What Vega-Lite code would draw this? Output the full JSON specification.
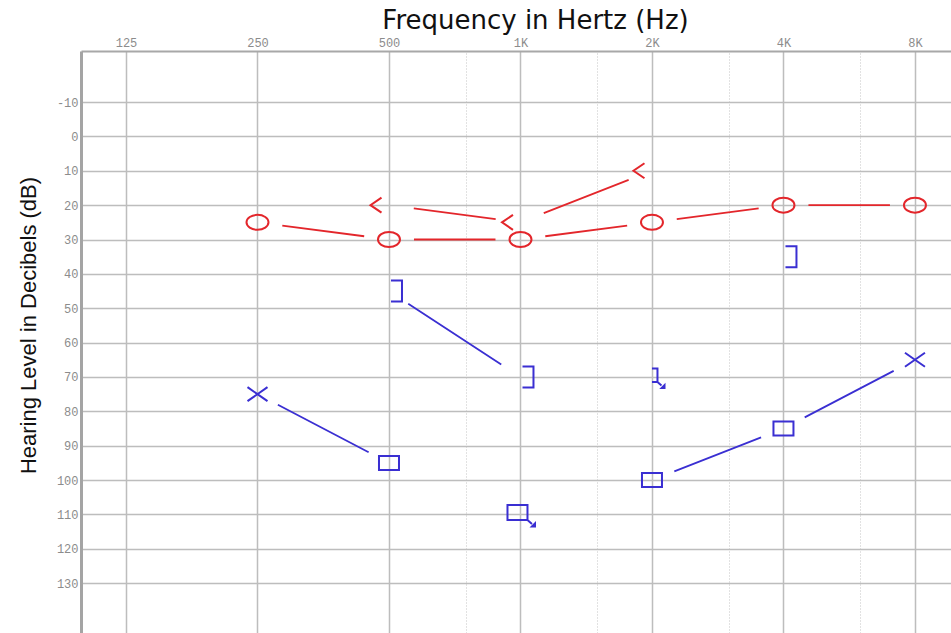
{
  "$schema": "https://vega.github.io/schema/vega-lite/v6.json",
  "width": 870,
  "height": 582,
  "padding": {"left": 81, "top": 51, "right": 0, "bottom": 0},
  "autosize": {"type": "none"},
  "background": "#ffffff",
  "config": {"view": {"stroke": null}},
  "data": {
    "values": [
      {"freq": 250, "db": 25, "ear": "R", "sym": "O", "grp": "RAC"},
      {"freq": 500, "db": 30, "ear": "R", "sym": "O", "grp": "RAC"},
      {"freq": 1000, "db": 30, "ear": "R", "sym": "O", "grp": "RAC"},
      {"freq": 2000, "db": 25, "ear": "R", "sym": "O", "grp": "RAC"},
      {"freq": 4000, "db": 20, "ear": "R", "sym": "O", "grp": "RAC"},
      {"freq": 8000, "db": 20, "ear": "R", "sym": "O", "grp": "RAC"},
      {"freq": 500, "db": 20, "ear": "R", "sym": "<", "grp": "RBC"},
      {"freq": 1000, "db": 25, "ear": "R", "sym": "<", "grp": "RBC"},
      {"freq": 2000, "db": 10, "ear": "R", "sym": "<", "grp": "RBC"},
      {"freq": 500, "db": 45, "ear": "L", "sym": "B", "grp": "LBC"},
      {"freq": 1000, "db": 70, "ear": "L", "sym": "B", "grp": "LBC"},
      {"freq": 2000, "db": 70, "ear": "L", "sym": "BNR"},
      {"freq": 4000, "db": 35, "ear": "L", "sym": "B"},
      {"freq": 250, "db": 75, "ear": "L", "sym": "X", "grp": "LAC1"},
      {"freq": 500, "db": 95, "ear": "L", "sym": "S", "grp": "LAC1"},
      {"freq": 1000, "db": 110, "ear": "L", "sym": "SNR"},
      {"freq": 2000, "db": 100, "ear": "L", "sym": "S", "grp": "LAC2"},
      {"freq": 4000, "db": 85, "ear": "L", "sym": "S", "grp": "LAC2"},
      {"freq": 8000, "db": 65, "ear": "L", "sym": "X", "grp": "LAC2"}
    ]
  },
  "encoding": {
    "x": {
      "field": "freq",
      "type": "quantitative",
      "scale": {"type": "log", "base": 2, "domain": [98.6, 9674], "nice": false, "zero": false},
      "axis": null
    },
    "y": {
      "field": "db",
      "type": "quantitative",
      "scale": {"domain": [-24.85, 144.5], "reverse": true, "nice": false, "zero": false},
      "axis": {
        "orient": "left",
        "values": [-10, 0, 10, 20, 30, 40, 50, 60, 70, 80, 90, 100, 110, 120, 130],
        "labelExpr": "'' + datum.value",
        "labelFont": "Liberation Mono",
        "labelFontSize": 12,
        "labelColor": "#8c8c8c",
        "labelPadding": 3,
        "ticks": false,
        "tickSize": 0,
        "domain": true,
        "domainColor": "#a4a4a4",
        "domainWidth": 3,
        "grid": true,
        "gridColor": "#bdbdbd",
        "gridWidth": 1.5,
        "title": "Hearing Level in Decibels (dB)",
        "titleFont": "Liberation Sans",
        "titleFontSize": 22,
        "titleFontWeight": "normal",
        "titleColor": "#111111",
        "titleAngle": 270,
        "titleX": -46,
        "titleY": 274,
        "titleAlign": "center",
        "titleBaseline": "alphabetic"
      }
    }
  },
  "layer": [
    {
      "transform": [{"filter": "isValid(datum.grp)"}],
      "mark": {"type": "line", "strokeWidth": 1.8},
      "encoding": {
        "x": {
          "field": "freq",
          "type": "quantitative",
          "scale": {"type": "log", "base": 2, "domain": [98.6, 9674], "nice": false, "zero": false},
          "axis": {
            "orient": "top",
            "values": [125, 250, 500, 1000, 2000, 4000, 8000],
            "labelExpr": "datum.value >= 1000 ? (datum.value / 1000) + 'K' : '' + datum.value",
            "labelFont": "Liberation Mono",
            "labelFontSize": 12,
            "labelColor": "#8c8c8c",
            "labelPadding": 2,
            "labelFlush": false,
            "labelOverlap": false,
            "ticks": false,
            "tickSize": 0,
            "domain": true,
            "domainColor": "#a8a8a8",
            "domainWidth": 2,
            "grid": true,
            "gridColor": "#bdbdbd",
            "gridWidth": 1.5,
            "title": "Frequency in Hertz (Hz)",
            "titleFont": "DejaVu Sans",
            "titleFontSize": 26,
            "titleFontWeight": "normal",
            "titleColor": "#111111",
            "titleX": 454,
            "titleY": -23,
            "titleAlign": "center",
            "titleBaseline": "alphabetic"
          }
        },
        "detail": {"field": "grp"},
        "strokeDash": {
          "field": "grp",
          "type": "nominal",
          "scale": {
            "domain": ["RAC", "RBC", "LBC", "LAC1", "LAC2"],
            "range": [
              [0, 25, 82.6, 50, 81.5, 50, 82.6, 50, 82.6, 50, 81.5, 25],
              [0, 25, 82.6, 50, 91.2, 25],
              [0, 23, 111.1, 23],
              [0, 23, 102.4, 23],
              [0, 24, 93.2, 48, 100.4, 24]
            ]
          },
          "legend": null
        },
        "color": {
          "field": "ear",
          "type": "nominal",
          "scale": {"domain": ["R", "L"], "range": ["#e3262b", "#3a2fd2"]},
          "legend": null
        }
      }
    },
    {
      "mark": {"type": "point", "filled": false, "size": 400, "strokeWidth": 2, "opacity": 1},
      "encoding": {
        "x": {
          "field": "freq",
          "type": "quantitative",
          "scale": {"type": "log", "base": 2, "domain": [98.6, 9674], "nice": false, "zero": false},
          "axis": {
            "orient": "bottom",
            "values": [750, 1500, 3000, 6000],
            "labels": false,
            "ticks": false,
            "domain": false,
            "grid": true,
            "gridColor": "#c4c4c4",
            "gridWidth": 1,
            "gridDash": [1, 2],
            "title": null
          }
        },
        "shape": {
          "field": "sym",
          "type": "nominal",
          "scale": {
            "domain": ["O", "<", "X", "S", "SNR", "B", "BNR"],
            "range": [
              "M -1.1 0 A 1.1 0.75 0 1 1 1.1 0 A 1.1 0.75 0 1 1 -1.1 0 Z",
              "M -0.75 -0.75 L -1.85 0 L -0.75 0.75",
              "M -1 -0.7 L 1 0.7 M -1 0.7 L 1 -0.7",
              "M -1 -0.7 L 1 -0.7 L 1 0.7 L -1 0.7 Z",
              "M -1.3 -0.95 L 0.7 -0.95 L 0.7 0.55 L -1.3 0.55 Z M 0.7 0.55 L 1.15 0.95",
              "M 0.2 -1.05 L 1.3 -1.05 L 1.3 1.05 L 0.2 1.05",
              "M 0 -0.85 L 0.55 -0.85 L 0.55 0.5 L 0 0.5 M 0.55 0.5 L 0.95 0.85"
            ]
          },
          "legend": null
        },
        "color": {
          "field": "ear",
          "type": "nominal",
          "scale": {"domain": ["R", "L"], "range": ["#e3262b", "#3a2fd2"]},
          "legend": null
        }
      }
    },
    {
      "transform": [{"filter": "datum.sym == 'SNR'"}],
      "mark": {"type": "point", "filled": true, "size": 400, "opacity": 1, "shape": "M 1.55 1.3 L 1.55 0.65 L 0.9 1.3 Z", "color": "#3a2fd2"}
    },
    {
      "transform": [{"filter": "datum.sym == 'BNR'"}],
      "mark": {"type": "point", "filled": true, "size": 400, "opacity": 1, "shape": "M 1.35 1.2 L 1.35 0.58 L 0.73 1.2 Z", "color": "#3a2fd2"}
    }
  ],
  "resolve": {"axis": {"x": "independent"}}
}
